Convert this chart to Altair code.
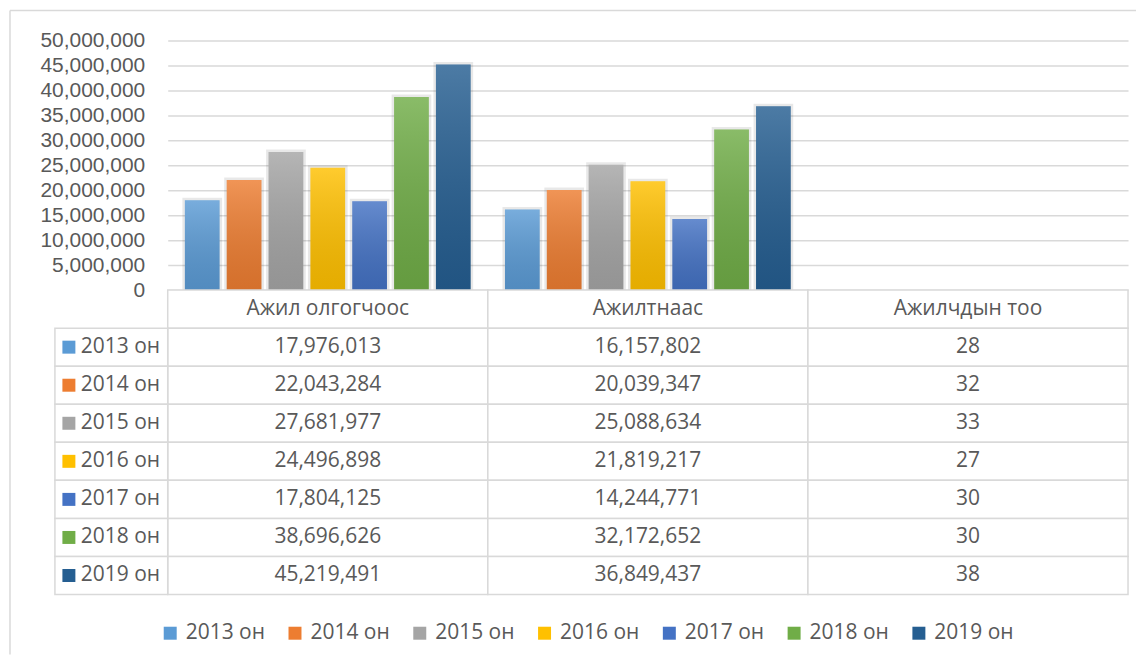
import altair as alt
import pandas as pd

categories = ["Ажил олгогчоос", "Ажилтнаас", "Ажилчдын тоо"]
years = ["2013 он", "2014 он", "2015 он", "2016 он", "2017 он", "2018 он", "2019 он"]
employer = [17976013, 22043284, 27681977, 24496898, 17804125, 38696626, 45219491]
employee = [16157802, 20039347, 25088634, 21819217, 14244771, 32172652, 36849437]
workers = [28, 32, 33, 27, 30, 30, 38]
colors = ["#5B9BD5", "#ED7D31", "#A5A5A5", "#FFC000", "#4472C4", "#70AD47", "#255E91"]
y_ticks = [0, 5000000, 10000000, 15000000, 20000000, 25000000,
           30000000, 35000000, 40000000, 45000000, 50000000]

series = [employer, employee, workers]
rows = []
for c, vals in zip(categories, series):
    for yr, v in zip(years, vals):
        rows.append({"category": c, "year": yr, "row": yr, "value": v})
df = pd.DataFrame(rows)

header_row = " "
row_domain = [header_row] + years
cells_df = pd.DataFrame([{"category": c, "row": r} for c in categories for r in row_domain])
header_df = pd.DataFrame([{"category": c, "row": header_row} for c in categories])
years_df = pd.DataFrame({"year": years, "row": years})
frame_df = pd.DataFrame({"k": [0]})

FONT = "Open Sans"
AXFONT = "Liberation Sans"
TXT = "#595959"
GRID = "#D9D9D9"
FS = 21
W = 962

x_cat = alt.X("category:N", scale=alt.Scale(domain=categories, paddingInner=0, paddingOuter=0), axis=None)
xo = alt.XOffset("year:N", scale=alt.Scale(domain=years, paddingInner=0.17, paddingOuter=0.41))
y_val = alt.Y("value:Q", scale=alt.Scale(domain=[0, 50000000], nice=False),
              axis=alt.Axis(values=y_ticks, format=",d", title=None, domain=False, ticks=False,
                            labelPadding=23, labelFont=AXFONT, labelFontSize=FS, labelColor=TXT,
                            gridColor=GRID, gridWidth=1.5))
legend = alt.Legend(title=None, orient="none", legendX=-8, legendY=583, direction="horizontal",
                    symbolType="square", symbolSize=169, symbolStrokeWidth=0,
                    labelFont=FONT, labelFontSize=FS, labelColor=TXT,
                    columnPadding=19, labelOffset=5)
color = alt.Color("year:N", scale=alt.Scale(domain=years, range=colors), legend=legend)

grad = alt.LinearGradient(gradient="linear", x1=0, y1=0, x2=0, y2=1,
                          stops=[alt.GradientStop(color="rgba(255,255,255,0.18)", offset=0),
                                 alt.GradientStop(color="rgba(0,0,0,0.10)", offset=1)])

base = alt.Chart(df)
shadow = base.mark_bar(fillOpacity=0, stroke="black", strokeOpacity=0.09, strokeWidth=5).encode(
    x=x_cat, xOffset=xo, y=y_val).transform_filter("datum.value > 1000")
bars = base.mark_bar().encode(x=x_cat, xOffset=xo, y=y_val, color=color)
overlay = base.mark_bar(color=grad).encode(x=x_cat, xOffset=xo, y=y_val)
bar_chart = alt.layer(shadow, bars, overlay).properties(width=W, height=250)

y_row = alt.Y("row:N", scale=alt.Scale(domain=row_domain, paddingInner=0, paddingOuter=0), axis=None)
frame_top = alt.Chart(frame_df).mark_rule(color=GRID, strokeWidth=1.5).encode(
    x=alt.value(-158), x2=alt.value(970), y=alt.value(-280))
frame_left = alt.Chart(frame_df).mark_rule(color=GRID, strokeWidth=1.5).encode(
    x=alt.value(-158), y=alt.value(-280), y2=alt.value(365))
cells = alt.Chart(cells_df).mark_rect(fill="white", stroke=GRID, strokeWidth=1.5).encode(x=x_cat, y=y_row)
left_cells = alt.Chart(years_df).mark_rect(fill="white", stroke=GRID, strokeWidth=1.5).encode(
    x=alt.value(-113), x2=alt.value(0), y=y_row)
squares = alt.Chart(years_df).mark_square(size=169, opacity=1).encode(
    x=alt.value(-99), y=y_row, color=color)
year_labels = alt.Chart(years_df).mark_text(align="left", baseline="middle", font=FONT, fontSize=FS,
                                            color=TXT).encode(x=alt.value(-87), y=y_row, text="year:N")
header = alt.Chart(header_df).mark_text(baseline="middle", font=FONT, fontSize=FS, color=TXT).encode(
    x=x_cat, y=y_row, text="category:N")
values = alt.Chart(df).mark_text(baseline="middle", font=FONT, fontSize=FS, color=TXT).encode(
    x=x_cat, y=y_row, text=alt.Text("value:Q", format=","))
table = alt.layer(frame_top, frame_left, cells, left_cells, squares, year_labels, header, values).properties(
    width=W, height=305)

chart = alt.vconcat(bar_chart, table, spacing=0, bounds="flush").properties(
    padding={"left": 0, "top": 0, "right": 0, "bottom": 0}
).configure_view(stroke="transparent")

chart.save("out.html", embed_options={"renderer": "svg", "actions": False})
